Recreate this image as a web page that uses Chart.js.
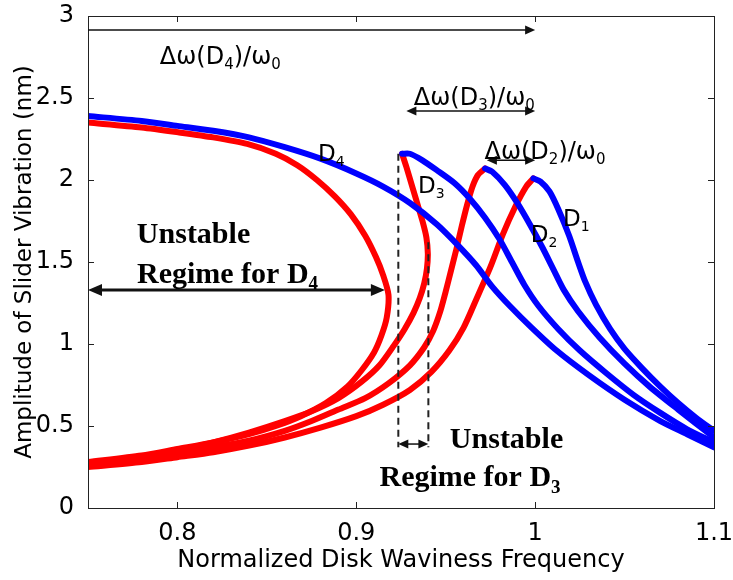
<!DOCTYPE html>
<html>
<head>
<meta charset="utf-8">
<script src="https://cdn.jsdelivr.net/npm/chart.js@4.4.1/dist/chart.umd.min.js"></script>
<style>
  html, body { margin: 0; padding: 0; background: #fff; }
</style>
</head>
<body>
<canvas id="chart" width="733" height="580"></canvas>
<script>
/* Tick values of the two axes */
const X_TICKS = [0.8, 0.9, 1.0, 1.1];
const Y_TICKS = [0, 0.5, 1, 1.5, 2, 2.5, 3];

/* Red branches (lower + unstable part) as [frequency, amplitude] */
const D1_RED = [[0.75,0.25],[0.78,0.28],[0.80,0.31],[0.82,0.34],[0.84,0.38],[0.86,0.43],[0.88,0.49],[0.90,0.56],[0.915,0.63],[0.93,0.72],[0.942,0.83],[0.952,0.96],[0.96,1.10],[0.967,1.27],[0.975,1.47],[0.982,1.67],[0.989,1.84],[0.995,1.96],[0.999,2.01]];
const D2_RED = [[0.75,0.26],[0.78,0.30],[0.80,0.33],[0.82,0.37],[0.84,0.41],[0.86,0.47],[0.875,0.53],[0.89,0.60],[0.905,0.67],[0.918,0.76],[0.93,0.87],[0.938,0.98],[0.943,1.08],[0.947,1.20],[0.950,1.32],[0.953,1.45],[0.956,1.58],[0.959,1.72],[0.962,1.85],[0.965,1.96],[0.968,2.03],[0.972,2.07]];
const D3_RED = [[0.9256,2.16],[0.928,2.08],[0.931,1.97],[0.934,1.86],[0.937,1.75],[0.9392,1.65],[0.94,1.55],[0.9395,1.46],[0.938,1.37],[0.9355,1.28],[0.932,1.19],[0.927,1.09],[0.921,0.99],[0.913,0.87],[0.903,0.77],[0.89,0.67],[0.875,0.59],[0.86,0.53],[0.84,0.46],[0.82,0.40],[0.80,0.35],[0.78,0.31],[0.75,0.27]];
const D4_RED = [[0.75,2.35],[0.78,2.32],[0.801,2.29],[0.82,2.26],[0.839,2.22],[0.855,2.16],[0.867,2.09],[0.878,2.00],[0.888,1.90],[0.897,1.79],[0.905,1.66],[0.911,1.53],[0.915,1.42],[0.918,1.30],[0.917,1.16],[0.914,1.05],[0.91,0.95],[0.903,0.84],[0.895,0.74],[0.883,0.64],[0.869,0.56],[0.855,0.50],[0.84,0.45],[0.82,0.40],[0.80,0.36],[0.78,0.32],[0.75,0.28]];

/* Blue branches (stable upper part) */
const D1_BLUE = [[0.999,2.01],[1.003,1.99],[1.008,1.93],[1.013,1.82],[1.019,1.66],[1.024,1.50],[1.028,1.38],[1.034,1.24],[1.042,1.09],[1.05,0.97],[1.06,0.85],[1.07,0.74],[1.08,0.64],[1.09,0.55],[1.10,0.47]];
const D2_BLUE = [[0.972,2.07],[0.976,2.05],[0.983,1.97],[0.99,1.86],[0.997,1.73],[1.004,1.59],[1.01,1.46],[1.016,1.33],[1.024,1.20],[1.036,1.04],[1.05,0.88],[1.064,0.74],[1.08,0.60],[1.10,0.43]];
const D3_BLUE = [[0.9256,2.16],[0.93,2.16],[0.937,2.12],[0.945,2.06],[0.955,1.98],[0.964,1.88],[0.972,1.77],[0.98,1.64],[0.987,1.50],[0.994,1.36],[1.002,1.23],[1.013,1.09],[1.025,0.96],[1.04,0.82],[1.055,0.69],[1.07,0.58],[1.085,0.48],[1.10,0.40]];
const D4_BLUE = [[0.75,2.39],[0.78,2.36],[0.80,2.33],[0.82,2.30],[0.84,2.26],[0.86,2.20],[0.88,2.13],[0.90,2.04],[0.915,1.96],[0.93,1.86],[0.945,1.73],[0.957,1.60],[0.967,1.48],[0.976,1.35],[0.986,1.23],[0.998,1.10],[1.012,0.96],[1.03,0.81],[1.05,0.66],[1.07,0.53],[1.085,0.45],[1.10,0.37]];

/* Dashed bounds of the D3 unstable regime */
const DASH_LEFT = [[0.9235,2.16],[0.9235,0.37]];
const DASH_RIGHT = [[0.9403,1.62],[0.9403,0.37]];

/* Arrows: from, to, both heads?, line width */
const ARROWS = [
  [[0.75,2.915],[1.0,2.915],false,1.5],
  [[0.928,2.42],[1.0,2.42],true,1.5],
  [[0.973,2.12],[1.0,2.12],true,1.5],
  [[0.75,1.33],[0.916,1.33],true,3],
  [[0.9235,0.39],[0.9403,0.39],true,1.5],
];

/* Text notes: "_" puts the next character in subscript */
const NOTES_SANS = [
  ["Δω(D_4)/ω_0", 0.824, 2.76],
  ["Δω(D_3)/ω_0", 0.966, 2.51],
  ["Δω(D_2)/ω_0", 1.0055, 2.18],
  ["D_4", 0.886, 2.165],
  ["D_3", 0.942, 1.97],
  ["D_2", 1.005, 1.67],
  ["D_1", 1.023, 1.77],
];
const NOTES_SERIF = [
  ["Unstable", 0.809, 1.68],
  ["Regime for D_4", 0.828, 1.44],
  ["Unstable", 0.984, 0.43],
  ["Regime for D_3", 0.9636, 0.20],
];

const SANS = "'DejaVu Sans', sans-serif";
const SERIF = "'Liberation Serif', 'Times New Roman', serif";

function toPts(arr) { return arr.map(p => ({ x: p[0], y: p[1] })); }

function curve(data, color) {
  return {
    data: toPts(data), showLine: true, borderColor: color, borderWidth: 6,
    pointRadius: 0, pointHoverRadius: 0, tension: 0.25, fill: false,
    borderCapStyle: "round", borderJoinStyle: "round",
    order: color === "#ff0000" ? 2 : 1,
  };
}
function dashed(data) {
  return {
    data: toPts(data), showLine: true, borderColor: "#222", borderWidth: 2,
    borderDash: [7, 5], pointRadius: 0, tension: 0, order: 0,
  };
}

function richText(ctx, str, cx, cy, size, family, weight) {
  const parts = [];
  for (let i = 0; i < str.length; i++) {
    if (str[i] === "_") { parts.push([str[i + 1], true]); i++; }
    else parts.push([str[i], false]);
  }
  const big = weight + " " + size + "px " + family;
  const small = weight + " " + Math.round(size * 0.62) + "px " + family;
  let w = 0;
  parts.forEach(([c, s]) => { ctx.font = s ? small : big; w += ctx.measureText(c).width; });
  let xx = cx - w / 2;
  ctx.textBaseline = "alphabetic";
  ctx.textAlign = "left";
  parts.forEach(([c, s]) => {
    ctx.font = s ? small : big;
    ctx.fillText(c, xx, cy + size * 0.36 + (s ? size * 0.22 : 0));
    xx += ctx.measureText(c).width;
  });
}

function head(ctx, x1, y1, x2, y2, len, wid) {
  const a = Math.atan2(y2 - y1, x2 - x1);
  ctx.beginPath();
  ctx.moveTo(x2, y2);
  ctx.lineTo(x2 - len * Math.cos(a) + wid * Math.sin(a), y2 - len * Math.sin(a) - wid * Math.cos(a));
  ctx.lineTo(x2 - len * Math.cos(a) - wid * Math.sin(a), y2 - len * Math.sin(a) + wid * Math.cos(a));
  ctx.closePath();
  ctx.fill();
}

const overlay = {
  id: "overlay",
  afterDatasetsDraw(chart) {
    const { ctx, chartArea: a, scales: { x, y } } = chart;
    ctx.save();
    // frame and inward ticks
    ctx.strokeStyle = "#222";
    ctx.lineWidth = 1;
    ctx.strokeRect(a.left + 0.5, a.top + 0.5, a.width, a.height);
    ctx.beginPath();
    X_TICKS.forEach(v => {
      const px = Math.round(x.getPixelForValue(v)) + 0.5;
      ctx.moveTo(px, a.bottom); ctx.lineTo(px, a.bottom - 6);
      ctx.moveTo(px, a.top); ctx.lineTo(px, a.top + 6);
    });
    Y_TICKS.forEach(v => {
      const py = Math.round(y.getPixelForValue(v)) + 0.5;
      ctx.moveTo(a.left, py); ctx.lineTo(a.left + 6, py);
      ctx.moveTo(a.right, py); ctx.lineTo(a.right - 6, py);
    });
    ctx.stroke();

    // arrows
    ctx.fillStyle = "#111";
    ctx.strokeStyle = "#111";
    ARROWS.forEach(([p, q, both, lw]) => {
      const x1 = x.getPixelForValue(p[0]), y1 = y.getPixelForValue(p[1]);
      const x2 = x.getPixelForValue(q[0]), y2 = y.getPixelForValue(q[1]);
      const len = lw > 2 ? 14 : 10, wid = lw > 2 ? 6 : 4.5;
      ctx.lineWidth = lw;
      ctx.beginPath();
      ctx.moveTo(x1 + (both ? len * 0.6 : 0), y1);
      ctx.lineTo(x2 - len * 0.6, y2);
      ctx.stroke();
      head(ctx, x1, y1, x2, y2, len, wid);
      if (both) head(ctx, x2, y2, x1, y1, len, wid);
    });

    // notes
    ctx.fillStyle = "#000";
    NOTES_SANS.forEach(([t, vx, vy]) => {
      const size = t.length <= 3 ? 23 : 24;
      richText(ctx, t, x.getPixelForValue(vx), y.getPixelForValue(vy), size, SANS, "normal");
    });
    NOTES_SERIF.forEach(([t, vx, vy]) => {
      richText(ctx, t, x.getPixelForValue(vx), y.getPixelForValue(vy), 30, SERIF, "bold");
    });
    ctx.restore();
  },
};

const whiteBg = {
  id: "whiteBg",
  beforeDraw(chart) {
    const c = chart.ctx;
    c.save(); c.fillStyle = "#fff"; c.fillRect(0, 0, chart.width, chart.height); c.restore();
  },
};

new Chart(document.getElementById("chart"), {
  type: "scatter",
  data: {
    datasets: [
      curve(D4_RED, "#ff0000"), curve(D3_RED, "#ff0000"), curve(D2_RED, "#ff0000"), curve(D1_RED, "#ff0000"),
      curve(D4_BLUE, "#0000ff"), curve(D3_BLUE, "#0000ff"), curve(D2_BLUE, "#0000ff"), curve(D1_BLUE, "#0000ff"),
      dashed(DASH_LEFT), dashed(DASH_RIGHT),
    ],
  },
  options: {
    responsive: false,
    animation: false,
    events: [],
    layout: { padding: { top: 16, right: 19, left: 0, bottom: 0 } },
    plugins: { legend: { display: false }, tooltip: { enabled: false } },
    scales: {
      x: {
        type: "linear", min: 0.75, max: 1.1,
        afterBuildTicks: s => { s.ticks = X_TICKS.map(v => ({ value: v })); },
        afterFit: s => { s.height = 72; s.paddingLeft = 0; s.paddingRight = 0; },
        grid: { display: false },
        border: { display: false },
        ticks: {
          color: "#000", padding: 3, maxRotation: 0,
          font: { family: SANS, size: 24 },
          callback: v => String(+v.toFixed(2)),
        },
        title: {
          display: true, text: "Normalized Disk Waviness Frequency", color: "#000",
          font: { family: SANS, size: 24 }, padding: { top: 0, bottom: 5 },
        },
      },
      y: {
        type: "linear", min: 0, max: 3,
        afterBuildTicks: s => { s.ticks = Y_TICKS.map(v => ({ value: v })); },
        afterFit: s => { s.width = 88; s.paddingTop = 0; s.paddingBottom = 0; },
        grid: { display: false },
        border: { display: false },
        ticks: {
          color: "#000", padding: 6,
          font: { family: SANS, size: 24 },
          callback: v => String(+v.toFixed(2)),
        },
        title: {
          display: true, text: "Amplitude of Slider Vibration (nm)", color: "#000",
          font: { family: SANS, size: 23 }, padding: { top: 11, bottom: 0 },
        },
      },
    },
  },
  plugins: [whiteBg, overlay],
});
</script>
</body>
</html>
